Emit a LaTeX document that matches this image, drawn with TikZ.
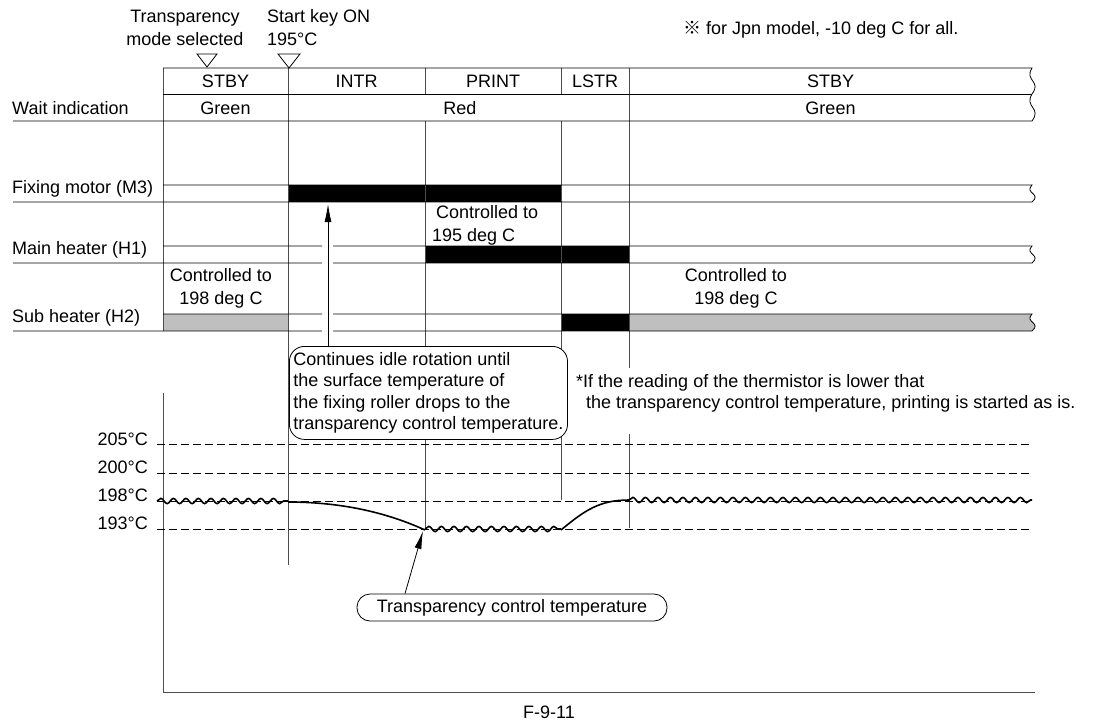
\documentclass[tikz,border=0pt]{standalone}
\usepackage{fontspec}
\setmainfont{Liberation Sans}
\newfontfamily\cjkfont{Noto Sans CJK JP}
\usetikzlibrary{arrows.meta,decorations.pathmorphing}

\begin{document}
\begin{tikzpicture}[x=1pt,y=-1pt,>=Latex,
  font=\fontsize{18}{21.5}\selectfont,
  lbl/.style={inner sep=0pt},
  rule/.style={line width=0.8pt},
  sep/.style={line width=0.8pt,black!70},
  wave/.style={line width=1.6pt,decorate,decoration={snake,segment length=12.5pt,amplitude=2.6pt}},
  guide/.style={line width=0.8pt,dash pattern=on 8pt off 4pt},
  rbox/.style={draw,fill=white,line width=0.8pt,inner sep=4pt},
  arr/.style={-{Latex[length=18pt,width=7pt]},line width=0.8pt}]
  \useasboundingbox (0,0) rectangle (1098,724);
  % header marks
  \node[lbl,align=center,font=\fontsize{18}{23}\selectfont] (transp) at (185,28) {Transparency\\mode selected};
  \node[lbl,align=left,anchor=west,font=\fontsize{18}{23}\selectfont] (startkey) at (267,28) {Start key ON\\195°C};
  \draw[rule] (197,54) -- (217,54) -- (207,67) -- cycle;
  \draw[rule] (278,54) -- (300,54) -- (289,68) -- cycle;
  \node[lbl,anchor=west] (jpn) at (683,30) {{\cjkfont ※} for Jpn model, -10 deg C for all.};
  % bars
  \fill (288,185) rectangle (561,202);
  \fill (425,246) rectangle (629,263);
  \fill[black!25] (163,314) rectangle (288,331);
  \fill (561,314) rectangle (629,331);
  \fill[black!25] (629,314) -- (1032,314) .. controls (1024,322.5) and (1042,322.5) .. (1032,331) -- (629,331) -- cycle;
  % separators
  \draw[sep] (163,68) -- (163,331);
  \draw[sep] (288,68) -- (288,565);
  \draw[sep] (425,68) -- (425,94) (425,121) -- (425,530);
  \draw[sep] (561,68) -- (561,94) (561,121) -- (561,500);
  \draw[sep] (629,68) -- (629,368) (629,434) -- (629,528);
  % table rows
  \draw[rule] (163,68) -- (1032,68) .. controls (1024,81) and (1042,81) .. (1032,94)
              .. controls (1024,107.5) and (1042,107.5) .. (1032,121) -- (13,121);
  \draw[rule] (163,94) -- (1032,94);
  \draw[rule] (163,185) -- (1032,185) .. controls (1024,193.5) and (1042,193.5) .. (1032,202) -- (13,202);
  \draw[rule] (163,246) -- (322,246) (333,246) -- (1032,246)
              .. controls (1024,254.5) and (1042,254.5) .. (1032,263) -- (333,263) (322,263) -- (13,263);
  \draw[rule] (163,314) -- (322,314) (333,314) -- (1032,314)
              .. controls (1024,322.5) and (1042,322.5) .. (1032,331) -- (333,331) (322,331) -- (13,331);
  % row labels
  \node[lbl,anchor=west] (wait) at (12,108) {Wait indication};
  \node[lbl,anchor=west] (motor) at (12,189) {Fixing motor (M3)};
  \node[lbl,anchor=west] (mainh) at (12,250) {Main heater (H1)};
  \node[lbl,anchor=west] (subh) at (12,318) {Sub heater (H2)};
  % sequence
  \node[lbl] (stbya) at (225.5,81) {STBY};
  \node[lbl] (intr) at (356.5,81) {INTR};
  \node[lbl] (print) at (493,81) {PRINT};
  \node[lbl] (lstr) at (595,81) {LSTR};
  \node[lbl] (stbyb) at (830.5,81) {STBY};
  \node[lbl] (greena) at (225.5,108) {Green};
  \node[lbl] (red) at (460,108) {Red};
  \node[lbl] (greenb) at (830.5,108) {Green};
  % control notes
  \node[lbl,align=center,font=\fontsize{18}{23}\selectfont] (ctla) at (221,288) {Controlled to\\198 deg C};
  \node[lbl,align=left,anchor=west,font=\fontsize{18}{23}\selectfont] (ctlb) at (432,225) {\hspace*{4pt}Controlled to\\195 deg C};
  \node[lbl,align=center,font=\fontsize{18}{23}\selectfont] (ctlc) at (736,288) {Controlled to\\198 deg C};
  % temperature chart
  \draw[sep] (163,393) -- (163,692) -- (1035,692);
  \foreach \y in {444,473,501,529}
    \draw[guide] (157,\y) -- (1032,\y);
  \node[lbl,anchor=east] (t205) at (148,439) {205°C};
  \node[lbl,anchor=east] (t200) at (148,467) {200°C};
  \node[lbl,anchor=east] (t198) at (148,495) {198°C};
  \node[lbl,anchor=east] (t193) at (148,523) {193°C};
  \draw[wave] (157,501) -- (288,501);
  \draw[line width=1.6pt] (288,502) .. controls (345,502) and (390,514) .. (425,530);
  \draw[wave] (425,529) -- (561,529);
  \draw[line width=1.6pt] (561,530) .. controls (585,510) and (600,500) .. (629,500);
  \draw[wave] (629,500) -- (1032,500);
  % callouts
  \node[rbox,rounded corners=15pt,anchor=north west,align=left,minimum width=268pt,minimum height=93pt] (idle) at (289,346)
    {Continues idle rotation until\\the surface temperature of\\the fixing roller drops to the\\transparency control temperature.};
  \coordinate (motorarr) at (328,204);
  \draw[arr] (motorarr |- idle.north) -- (motorarr);
  \node[lbl,anchor=north west,align=left] (note) at (576,374)
    {*If the reading of the thermistor is lower that\\\hspace*{10pt}the transparency control temperature, printing is started as is.};
  \node[rbox,rounded corners=13pt,minimum width=310pt,minimum height=27pt] (tct) at (512,607.5) {Transparency control temperature};
  \coordinate (dip) at (423,531);
  \coordinate (tctx) at (405,0);
  \draw[arr] (tct.north -| tctx) -- (dip);
  \node[lbl] (fig) at (549,712) {F-9-11};
\end{tikzpicture}
\end{document}
